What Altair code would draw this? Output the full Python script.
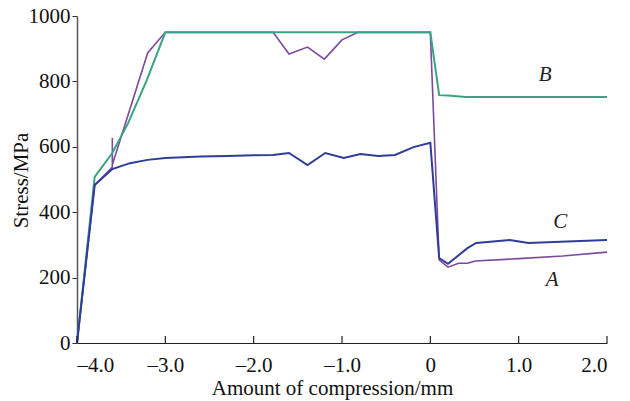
import altair as alt
import pandas as pd

# Curve A (purple)
A_x = [-4.0, -3.8, -3.6, -3.6, -3.6, -3.2, -3.0, -1.78, -1.6, -1.39, -1.2, -1.0, -0.82, 0.0, 0.1, 0.2, 0.32, 0.42, 0.51, 1.0, 1.5, 2.0]
A_y = [0, 483, 538, 627, 545, 887, 950, 950, 884, 905, 868, 927, 950, 950, 254, 232, 244, 244, 251, 258, 266, 278]

# Curve B (green)
B_x = [-4.0, -3.8, -3.6, -3.42, -3.21, -3.0, 0.0, 0.1, 0.2, 0.4, 1.0, 2.0]
B_y = [0, 508, 581, 673, 804, 950, 950, 758, 757, 752, 752, 752]

# Curve C (blue)
C_x = [-4.0, -3.8, -3.6, -3.4, -3.2, -3.0, -2.6, -2.3, -2.0, -1.78, -1.6, -1.39, -1.19, -0.98, -0.79, -0.59, -0.4, -0.19, 0.0, 0.1, 0.2, 0.42, 0.52, 0.9, 1.11, 1.4, 2.0]
C_y = [0, 483, 532, 550, 560, 566, 570, 572, 574, 575, 581, 544, 581, 566, 578, 572, 575, 599, 612, 260, 242, 290, 306, 315, 306, 309, 315]

x_ticks = [-4.0, -3.0, -2.0, -1.0, 0.0, 1.0, 2.0]
y_ticks = [0, 200, 400, 600, 800, 1000]

lab_text = ["B", "C", "A"]
lab_x = [1.30, 1.47, 1.38]
lab_y = [820, 370, 193]

W, H = 530, 327
FONT = "Liberation Serif"
FS = 21


def frame(xs, ys, name):
    return pd.DataFrame({"x": xs, "y": ys, "s": name, "i": list(range(len(xs)))})


xscale = alt.Scale(domain=[-4, 2], nice=False, zero=False)
yscale = alt.Scale(domain=[0, 1000], nice=False)

xaxis = alt.Axis(
    values=x_ticks, ticks=False, grid=False, domainColor="#222", domainWidth=1.2,
    labelFont=FONT, labelFontSize=FS, labelColor="#111", labelPadding=11,
    labelExpr="datum.value == 0 ? '0' : (datum.value < 0 ? '\u2013' + format(abs(datum.value), '.1f') : format(datum.value, '.1f'))",
    title="Amount of compression/mm", titleFont=FONT, titleFontSize=FS,
    titleFontWeight="normal", titleColor="#111",
    titleBaseline="alphabetic", titleY=51, titleX=255, titleAlign="center",
)
yaxis = alt.Axis(
    values=y_ticks, grid=False, domainColor="#555", domainWidth=1.5, format="d",
    tickColor="#333", tickSize=5, labelFont=FONT, labelFontSize=FS,
    labelColor="#111", labelPadding=2,
    title="Stress/MPa", titleFont=FONT, titleFontSize=FS,
    titleFontWeight="normal", titleColor="#111",
    titleBaseline="middle", titleX=-56, titleY=164, titleAlign="center", titleAngle=270,
)

X = alt.X("x:Q", scale=xscale, axis=xaxis)
Y = alt.Y("y:Q", scale=yscale, axis=yaxis)


def line(df, color, width):
    return alt.Chart(df).mark_line(color=color, strokeWidth=width).encode(
        x=X, y=Y, order="i:Q"
    )


lA = line(frame(A_x, A_y, "A"), "#7b4aa0", 1.6)
lB = line(frame(B_x, B_y, "B"), "#3aa383", 2.0)
lC = line(frame(C_x, C_y, "C"), "#2f3c98", 2.0)

ticks = alt.Chart(pd.DataFrame({"x": x_ticks})).mark_rule(color="#222", strokeWidth=1.2).encode(
    x=X,
    y=alt.value(H),
    y2=alt.value(H - 7),
)

labels = alt.Chart(pd.DataFrame({"x": lab_x, "y": lab_y, "t": lab_text})).mark_text(
    font=FONT, fontSize=FS, fontStyle="italic", color="#222"
).encode(
    x=X,
    y=Y,
    text="t:N",
)

chart = alt.layer(lA, lB, lC, ticks, labels).properties(
    width=W, height=H,
    padding={"left": 77, "top": 16, "right": 23, "bottom": 58},
    autosize="none",
    background="white",
).configure_view(stroke=None)

chart.save("out.html", embed_options={"renderer": "svg", "actions": False})
